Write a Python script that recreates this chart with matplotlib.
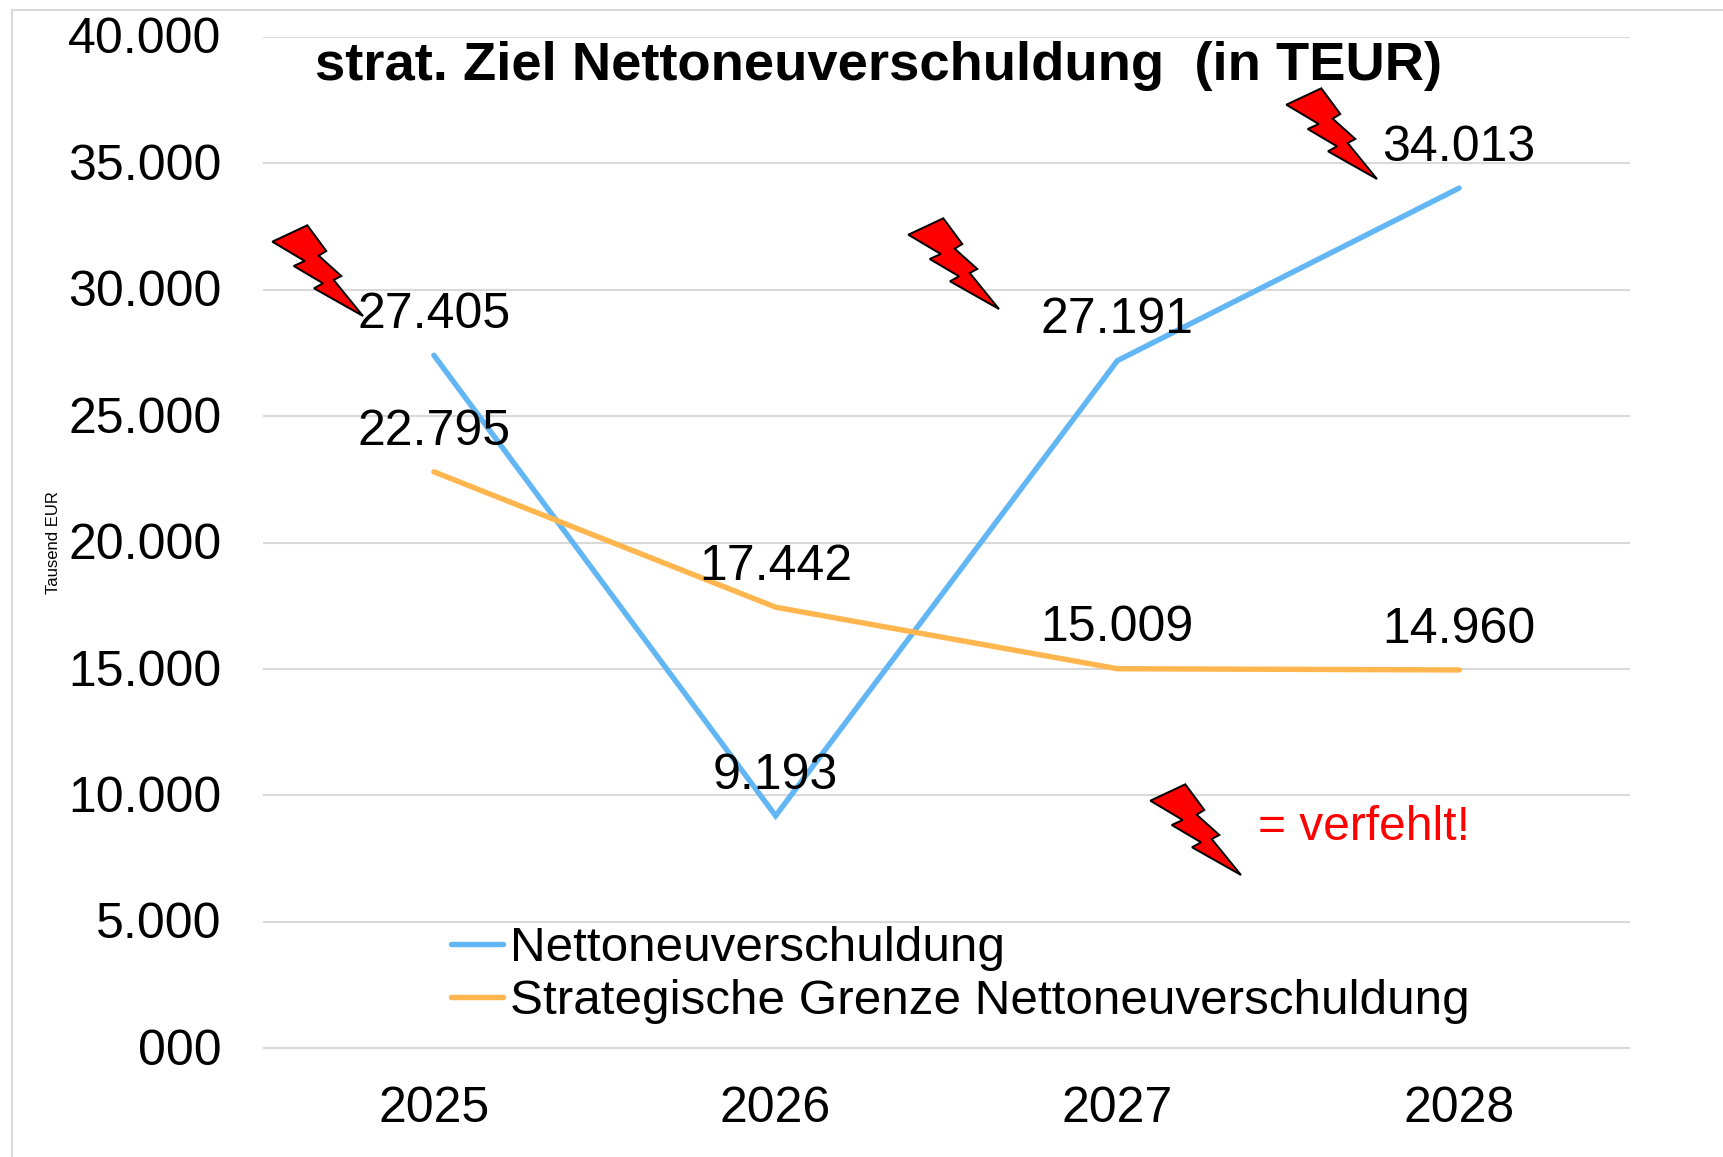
#!/usr/bin/env python3
"""Strategic target chart for net new debt, 2025-2028."""

import matplotlib
matplotlib.use('Agg')
import matplotlib.pyplot as plt
from matplotlib.lines import Line2D
from matplotlib.patches import Polygon
from matplotlib.transforms import ScaledTranslation

plt.rcParams['font.family'] = ['Liberation Sans', 'DejaVu Sans']

# Data
years = ['2025', '2026', '2027', '2028']
netto = [27405, 9193, 27191, 34013]
grenze = [22795, 17442, 15009, 14960]
netto_labels = ['27.405', '9.193', '27.191', '34.013']
grenze_labels = ['22.795', '17.442', '15.009', '14.960']
y_ticks = [0, 5000, 10000, 15000, 20000, 25000, 30000, 35000, 40000]
y_tick_labels = ['000', '5.000', '10.000', '15.000', '20.000', '25.000', '30.000', '35.000', '40.000']

W, H = 1724, 1157
BLUE = '#63B6F4'
ORANGE = '#FFB64F'
GRID = '#D9D9D9'

# Bolt outline in pixels relative to its tip
bolt_shape = [(-90.7, -74.3), (-55.7, -90.7), (-36.7, -65), (-44.3, -60.3), (-21.7, -40),
              (-29.3, -36), (0, 0), (-49, -27.7), (-40, -32.7), (-69.3, -50), (-58.3, -55)]
bolt_tips = [(363, 316), (999, 309), (1377, 179), (1241, 875)]


def fx(px):
    return px / W


def fy(py):
    return 1 - py / H


fig = plt.figure(figsize=(W / 100, H / 100), dpi=100, facecolor='white')
ax = fig.add_axes([fx(263), fy(1048.3), (1630 - 263) / W, (1048.3 - 36.7) / H])

x = list(range(len(years)))
ax.plot(x, netto, color=BLUE, linewidth=3.9, label='Nettoneuverschuldung', zorder=3,
        solid_capstyle='round', solid_joinstyle='miter')
ax.plot(x, grenze, color=ORANGE, linewidth=3.9, label='Strategische Grenze Nettoneuverschuldung',
        zorder=3, solid_capstyle='round', solid_joinstyle='miter')

ax.set_xlim(-0.5, 3.5)
ax.set_ylim(0, 40000)
ax.set_xticks(x)
ax.set_xticklabels(years, fontsize=36)
ax.set_yticks(y_ticks)
ax.set_yticklabels(y_tick_labels, fontsize=36)
ax.tick_params(axis='both', length=0)
ax.tick_params(axis='x', pad=27)
ax.tick_params(axis='y', pad=30)
# reference tick labels sit a touch above their gridlines
for lab in ax.get_yticklabels():
    lab.set_transform(lab.get_transform() + ScaledTranslation(0, 1 / 72, fig.dpi_scale_trans))
ax.grid(axis='y', color=GRID, linewidth=1.5, solid_capstyle='butt')
ax.set_axisbelow(True)
for spine in ['top', 'right', 'left']:
    ax.spines[spine].set_visible(False)
ax.spines['bottom'].set_color(GRID)
ax.spines['bottom'].set_linewidth(1.5)
ax.spines['bottom'].set_capstyle('butt')

# Value labels sit above their points
for series, labels in [(netto, netto_labels), (grenze, grenze_labels)]:
    for i, (val, lab) in enumerate(zip(series, labels)):
        ax.annotate(lab, (i, val), xytext=(0, 29), textcoords='offset points',
                    ha='center', va='center', fontsize=36, color='black', zorder=6)

# Lightning bolts
for tx, ty in bolt_tips:
    pts = [(fx(tx + dx), fy(ty + dy)) for dx, dy in bolt_shape]
    ax.add_patch(Polygon(pts, closed=True, facecolor='#FF0000', edgecolor='black', linewidth=1.4,
                         transform=fig.transFigure, clip_on=False, zorder=5))

leg = ax.legend(loc='upper left', bbox_to_anchor=(fx(451), fy(926)), bbox_transform=fig.transFigure,
                frameon=False, fontsize=35.6, handlelength=1.05, handletextpad=0.15,
                labelspacing=0.16, borderpad=0, borderaxespad=0)

fig.text(fx(879), fy(66), 'strat. Ziel Nettoneuverschuldung  (in TEUR)', fontsize=39.2,
         fontweight='bold', ha='center', va='center', zorder=7)
fig.text(fx(1364), fy(827), '= verfehlt!', fontsize=34.5, color='#FF0000', ha='center', va='center')
fig.text(fx(54), fy(543), 'Tausend EUR', fontsize=12, rotation=90, ha='center', va='center')

# Frame left and top
fig.add_artist(Line2D([fx(12), fx(12)], [0, fy(10)], color=GRID, linewidth=1.5))
fig.add_artist(Line2D([fx(12), 1], [fy(10), fy(10)], color=GRID, linewidth=1.5))

fig.savefig('out.png', dpi=100)
